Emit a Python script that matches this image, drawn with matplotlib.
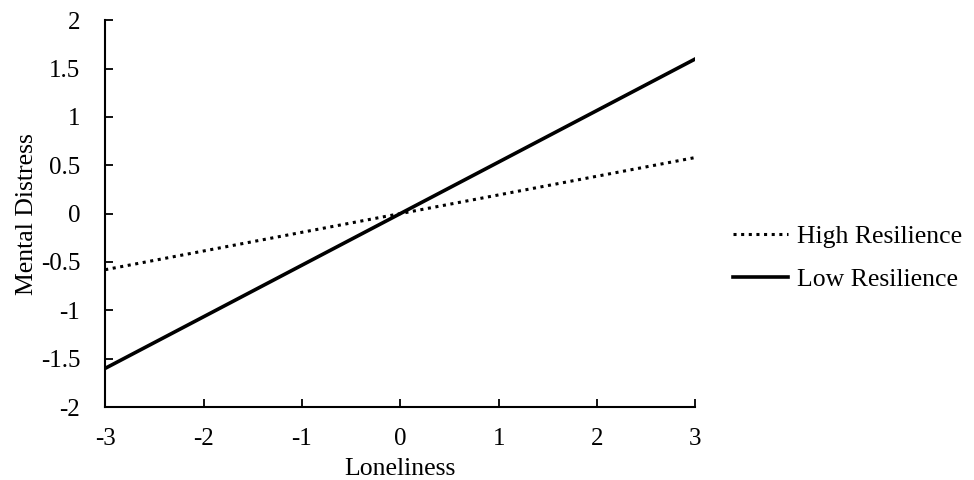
import matplotlib.pyplot as plt

plt.rcParams['font.family'] = ['Liberation Serif', 'DejaVu Serif']

loneliness = [-3, 3]
high_resilience = [-0.58, 0.58]
low_resilience = [-1.6, 1.6]
x_ticks = [-3, -2, -1, 0, 1, 2, 3]
y_ticks = [-2, -1.5, -1, -0.5, 0, 0.5, 1, 1.5, 2]

fig = plt.figure(figsize=(9.74, 4.8), dpi=100)
ax = fig.add_axes([0.108, 0.152, 0.606, 0.806])

ax.plot(loneliness, high_resilience, color='black', linestyle=(0, (1, 1.5)),
        linewidth=2.2, label='High Resilience')
ax.plot(loneliness, low_resilience, color='black', linestyle='-', linewidth=2.6,
        label='Low Resilience')

ax.set_xlim(-3, 3)
ax.set_ylim(-2, 2)
ax.set_xticks(x_ticks)
ax.set_xticklabels([f'{t:g}' for t in x_ticks])
ax.set_yticks(y_ticks)
ax.set_yticklabels([f'{t:g}' for t in y_ticks])
ax.tick_params(direction='in', length=6, width=1.3, labelsize=18)
ax.tick_params(axis='x', pad=15)
ax.tick_params(axis='y', pad=18)

for side in ['top', 'right']:
    ax.spines[side].set_visible(False)
for side in ['left', 'bottom']:
    ax.spines[side].set_linewidth(1.5)

ax.set_xlabel('Loneliness', fontsize=18.5, labelpad=6)
ax.set_ylabel('Mental Distress', fontsize=18.5, labelpad=2)

ax.legend(loc='center left', bbox_to_anchor=(1.063, 0.385), frameon=False,
          fontsize=18.5, handlelength=2.15, handletextpad=0.35, labelspacing=0.75,
          borderpad=0, borderaxespad=0)

fig.savefig('out.png', dpi=100)
